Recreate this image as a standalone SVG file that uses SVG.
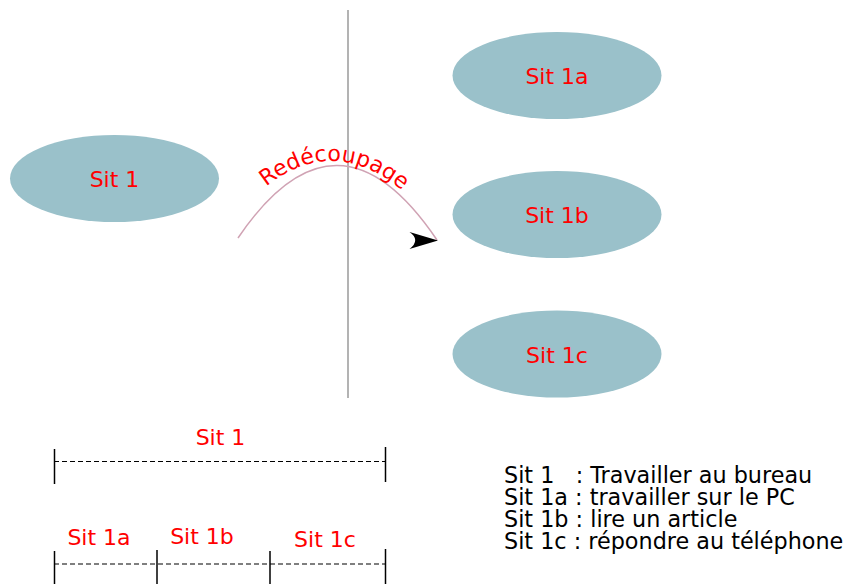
<svg xmlns="http://www.w3.org/2000/svg" xmlns:xlink="http://www.w3.org/1999/xlink" width="844" height="584" viewBox="0 0 844 584">
<style>
.node{fill:#9ac1ca;stroke:none}
.red{fill:#ff0000;font-family:"DejaVu Sans",sans-serif;font-size:22px;text-anchor:middle}
.legend{fill:#000;font-family:"DejaVu Sans",sans-serif;font-size:22.3px;white-space:pre}
.dash{stroke:#000;stroke-width:1.2;stroke-dasharray:5 3;fill:none}
.tick{stroke:#000;stroke-width:1.5;fill:none}
</style>
<defs>
<path id="textarc" d="M 255 196 Q 333 124 413 200"/>
</defs>
<rect width="844" height="584" fill="#fff"/>
<line x1="348" y1="10" x2="348" y2="398" stroke="#9a9a9a" stroke-width="1.5"/>
<g id="sit1"><ellipse class="node" cx="114.5" cy="178.5" rx="104.5" ry="43.5"/><text class="red" x="114.5" y="187">Sit 1</text></g>
<g id="sit1a"><ellipse class="node" cx="557" cy="75.5" rx="104.5" ry="43.5"/><text class="red" x="557" y="84">Sit 1a</text></g>
<g id="sit1b"><ellipse class="node" cx="557" cy="214.5" rx="104.5" ry="43.5"/><text class="red" x="557" y="223">Sit 1b</text></g>
<g id="sit1c"><ellipse class="node" cx="557" cy="354" rx="104.5" ry="43.5"/><text class="red" x="557" y="362.5">Sit 1c</text></g>
<g id="connectors">
<path d="M 238 238 Q 337 92 437 240" fill="none" stroke="#d0a3b4" stroke-width="1.5"/>
<path d="M 438 240.5 L 409.5 232 Q 421 240 409.5 249 Z" fill="#000"/>
<text class="red" font-size="22"><textPath xlink:href="#textarc" startOffset="50%">Redécoupage</textPath></text>
</g>
<g id="timeline-top">
<line class="dash" x1="54" y1="461.5" x2="385" y2="461.5"/>
<line class="tick" x1="54.5" y1="449" x2="54.5" y2="484"/>
<line class="tick" x1="385.5" y1="447" x2="385.5" y2="482"/>
<text class="red" x="220.5" y="445">Sit 1</text>
</g>
<g id="timeline-bottom">
<line class="dash" x1="54" y1="564" x2="386" y2="564"/>
<line class="tick" x1="54.5" y1="551" x2="54.5" y2="584"/>
<line class="tick" x1="157" y1="550" x2="157" y2="584"/>
<line class="tick" x1="270" y1="551" x2="270" y2="584"/>
<line class="tick" x1="385.5" y1="549" x2="385.5" y2="584"/>
<text class="red" x="99" y="545">Sit 1a</text>
<text class="red" x="202" y="544">Sit 1b</text>
<text class="red" x="325" y="547">Sit 1c</text>
</g>
<g id="legend">
<text class="legend" x="504" y="482.5">Sit 1   : Travailler au bureau</text>
<text class="legend" x="504" y="504.5">Sit 1a : travailler sur le PC</text>
<text class="legend" x="504" y="526.5">Sit 1b : lire un article</text>
<text class="legend" x="504" y="548.5">Sit 1c : répondre au téléphone</text>
</g>
</svg>
